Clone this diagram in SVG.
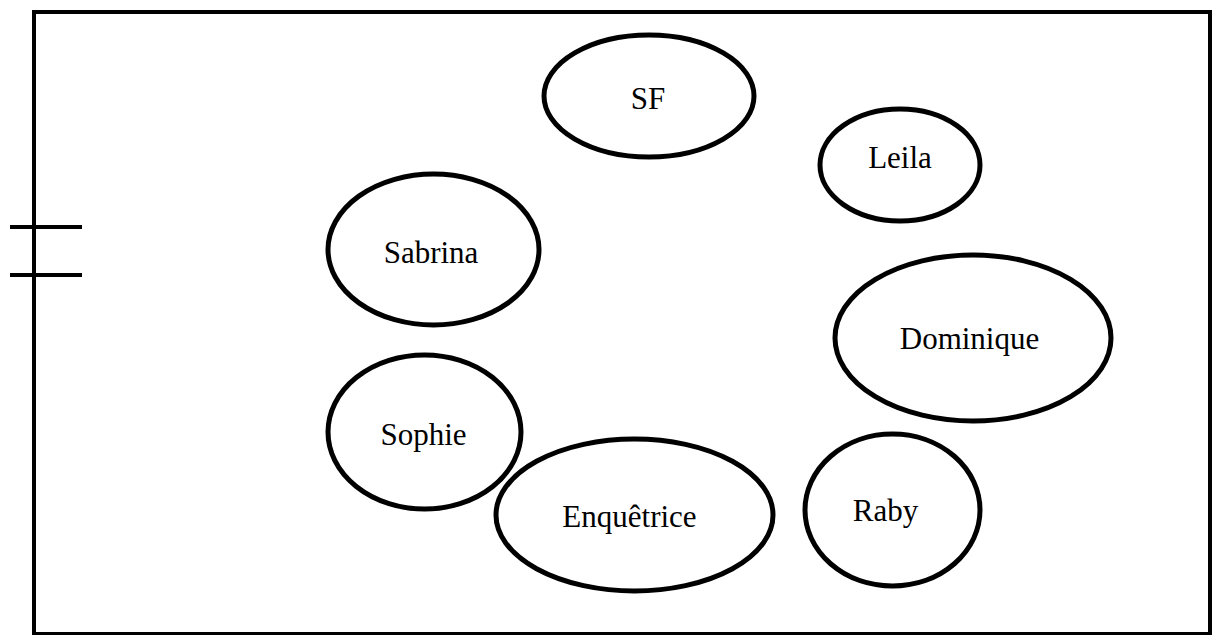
<svg xmlns="http://www.w3.org/2000/svg" width="1212" height="635" viewBox="0 0 1212 635">
<style>
.node ellipse{fill:#fff;stroke:#000;stroke-width:5}
.node text{font-family:"Liberation Serif","Times New Roman",serif;font-size:31px;fill:#000;text-anchor:middle}
.wall{fill:none;stroke:#000;stroke-width:4}
</style>
<rect width="1212" height="635" fill="#fff"/>
<g id="room">
<rect class="wall" x="34" y="12" width="1176" height="622"/>
<line class="wall" x1="10" y1="227" x2="82" y2="227"/>
<line class="wall" x1="10" y1="275" x2="82" y2="275"/>
</g>
<g id="connectors"></g>
<g id="sf" class="node"><ellipse cx="649" cy="96" rx="105" ry="61"/><text x="648" y="109">SF</text></g>
<g id="leila" class="node"><ellipse cx="900" cy="165" rx="80" ry="56"/><text x="900" y="168">Leila</text></g>
<g id="sabrina" class="node"><ellipse cx="433.5" cy="249.5" rx="105.5" ry="75.5"/><text x="431" y="263">Sabrina</text></g>
<g id="dominique" class="node"><ellipse cx="973" cy="338" rx="138" ry="83"/><text x="969.5" y="349">Dominique</text></g>
<g id="sophie" class="node"><ellipse cx="424.5" cy="432" rx="96.5" ry="77"/><text x="423.5" y="445">Sophie</text></g>
<g id="enquetrice" class="node"><ellipse cx="634.5" cy="515" rx="138.5" ry="76"/><text x="629.5" y="527">Enquêtrice</text></g>
<g id="raby" class="node"><ellipse cx="892.5" cy="510" rx="87.5" ry="76"/><text x="885.5" y="521">Raby</text></g>
</svg>
